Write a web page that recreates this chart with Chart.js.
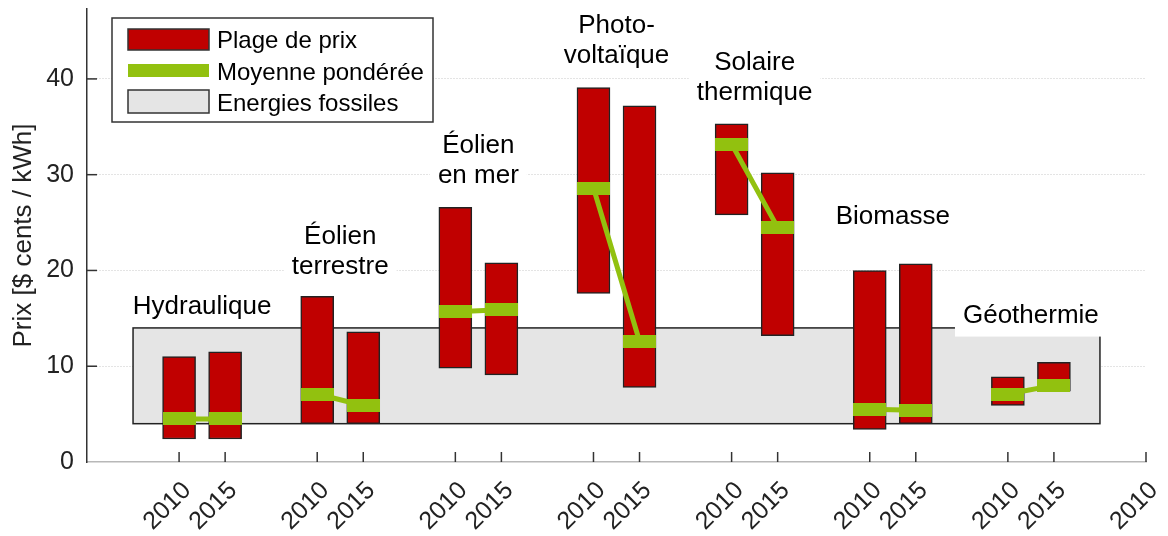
<!DOCTYPE html>
<html>
<head>
<meta charset="utf-8">
<script src="https://cdn.jsdelivr.net/npm/chart.js@4.4.1/dist/chart.umd.min.js"></script>
<style>
  html, body { margin: 0; padding: 0; background: #fff; }
  canvas { display: block; }
</style>
</head>
<body>
<canvas id="chart" width="1168" height="536"></canvas>
<script>
const technologies = ['Hydraulique', 'Éolien terrestre', 'Éolien en mer', 'Photovoltaïque',
  'Solaire thermique', 'Biomasse', 'Géothermie'];
const labelLines = [['Hydraulique'], ['Éolien', 'terrestre'], ['Éolien', 'en mer'], ['Photo-', 'voltaïque'],
  ['Solaire', 'thermique'], ['Biomasse'], ['Géothermie']];
const years = ['2010', '2015'];
const tickLabels = ['2010', '2015', '2010', '2015', '2010', '2015', '2010', '2015',
  '2010', '2015', '2010', '2015', '2010', '2015', '2010'];

// price range and weighted mean, $ cents / kWh
const low2010  = [2.4, 4.0, 9.8, 17.6, 25.8, 3.4, 5.9];
const high2010 = [11.0, 17.3, 26.6, 39.1, 35.3, 20.0, 8.9];
const mean2010 = [4.5, 7.1, 15.7, 28.6, 33.2, 5.5, 7.1];
const low2015  = [2.4, 4.0, 9.1, 7.8, 13.2, 4.0, 7.4];
const high2015 = [11.5, 13.6, 20.8, 37.2, 30.2, 20.7, 10.4];
const mean2015 = [4.5, 5.9, 15.9, 12.6, 24.5, 5.4, 8.0];
const fossilRange = [4, 14];

// where the group names sit (value of the last line's baseline)
const labelBaseline = [15.5, 19.6, 29.1, 41.7, 37.85, 24.9, 14.5];

const RED = '#c00000';
const GREEN = '#92c10f';
const GRAY = '#e5e5e5';
const EDGE = '#222';
const FAMILY = "'Liberation Sans', Arial, sans-serif";

// x layout: 2010 at 3k, 2015 at 3k+1
const xOf = (k, j) => k * 3 + j;
const tickPos = tickLabels.map((t, i) => Math.floor(i / 2) * 3 + (i % 2));

const bars = [];
const means = [];
technologies.forEach((t, k) => {
  bars.push({ x: xOf(k, 0), y: [low2010[k], high2010[k]] });
  bars.push({ x: xOf(k, 1), y: [low2015[k], high2015[k]] });
  means.push({ x: xOf(k, 0), y: mean2010[k] });
  means.push({ x: xOf(k, 1), y: mean2015[k] });
  means.push({ x: xOf(k, 2), y: null });
});

const meanMark = document.createElement('canvas');
meanMark.width = 33;
meanMark.height = 13;
const mctx = meanMark.getContext('2d');
mctx.fillStyle = GREEN;
mctx.fillRect(0, 0, 33, 13);

const decor = {
  id: 'decor',
  beforeDatasetsDraw(chart) {
    const { ctx, scales: { x, y } } = chart;
    const x0 = x.getPixelForValue(-1), x1 = x.getPixelForValue(20);
    const y0 = y.getPixelForValue(fossilRange[1]), y1 = y.getPixelForValue(fossilRange[0]);
    ctx.save();
    ctx.fillStyle = GRAY;
    ctx.fillRect(x0, y0, x1 - x0, y1 - y0);
    ctx.strokeStyle = EDGE;
    ctx.lineWidth = 1.5;
    ctx.strokeRect(x0, y0, x1 - x0, y1 - y0);
    ctx.restore();
  },
  afterDatasetsDraw(chart) {
    const { ctx, chartArea, scales: { x, y } } = chart;
    ctx.save();
    // inward ticks
    ctx.strokeStyle = '#333';
    ctx.lineWidth = 1.5;
    tickPos.forEach(v => {
      const px = x.getPixelForValue(v);
      ctx.beginPath();
      ctx.moveTo(px, chartArea.bottom);
      ctx.lineTo(px, chartArea.bottom - 10);
      ctx.stroke();
    });
    [10, 20, 30, 40].forEach(v => {
      const py = y.getPixelForValue(v);
      ctx.beginPath();
      ctx.moveTo(chartArea.left, py);
      ctx.lineTo(chartArea.left + 10, py);
      ctx.stroke();
    });

    // group names
    const size = 26, lineH = 30;
    ctx.font = size + 'px ' + FAMILY;
    ctx.textAlign = 'center';
    ctx.textBaseline = 'alphabetic';
    labelLines.forEach((lines, k) => {
      const cx = x.getPixelForValue(xOf(k, 0.5));
      const base = y.getPixelForValue(labelBaseline[k]);
      const w = Math.max(...lines.map(l => ctx.measureText(l).width));
      const top = base - (lines.length - 1) * lineH - 0.75 * size - 8;
      const bottom = base + 0.21 * size + 8;
      ctx.fillStyle = '#fff';
      ctx.fillRect(cx - w / 2 - 8, top, w + 16, bottom - top);
      ctx.fillStyle = '#000';
      lines.forEach((l, i) => ctx.fillText(l, cx, base - (lines.length - 1 - i) * lineH));
    });

    // legend
    ctx.fillStyle = '#fff';
    ctx.fillRect(112, 18, 321, 104);
    ctx.strokeStyle = '#333';
    ctx.strokeRect(112, 18, 321, 104);
    ctx.fillStyle = RED;
    ctx.fillRect(128, 29, 81, 21);
    ctx.strokeRect(128, 29, 81, 21);
    ctx.fillStyle = GREEN;
    ctx.fillRect(128, 64, 81, 13);
    ctx.fillStyle = GRAY;
    ctx.fillRect(128, 90, 81, 23);
    ctx.strokeRect(128, 90, 81, 23);
    ctx.fillStyle = '#000';
    ctx.font = '24px ' + FAMILY;
    ctx.textAlign = 'left';
    ctx.fillText('Plage de prix', 217, 48);
    ctx.fillText('Moyenne pondérée', 217, 80);
    ctx.fillText('Energies fossiles', 217, 111);
    ctx.restore();
  }
};

new Chart(document.getElementById('chart'), {
  data: {
    datasets: [
      {
        type: 'line',
        label: 'Moyenne pondérée',
        data: means,
        borderColor: GREEN,
        borderWidth: 5,
        pointStyle: meanMark,
        spanGaps: false,
        order: 1
      },
      {
        type: 'bar',
        label: 'Plage de prix',
        data: bars,
        backgroundColor: RED,
        borderColor: EDGE,
        borderWidth: 1.5,
        borderSkipped: false,
        barThickness: 33,
        order: 2
      }
    ]
  },
  options: {
    responsive: false,
    animation: false,
    devicePixelRatio: 1,
    layout: { padding: { top: 7, right: 22, left: 0, bottom: 0 } },
    plugins: { legend: { display: false }, tooltip: { enabled: false } },
    scales: {
      x: {
        type: 'linear',
        offset: false,
        min: -2,
        max: 21,
        afterBuildTicks: s => { s.ticks = tickPos.map(v => ({ value: v })); },
        afterFit: s => { s.height = 74; s.paddingLeft = 0; s.paddingRight = 0; },
        grid: { display: false },
        border: { color: '#b8b8b8', width: 1.5 },
        ticks: {
          autoSkip: false,
          minRotation: 45,
          maxRotation: 45,
          padding: 6,
          labelOffset: 8,
          color: '#222',
          font: { family: FAMILY, size: 25 },
          callback: (v, i) => tickLabels[i]
        }
      },
      y: {
        min: 0,
        max: 47.3,
        afterFit: s => { s.width = 87; s.paddingTop = 0; s.paddingBottom = 0; },
        border: { color: '#333', width: 1.5, dash: [1, 2] },
        grid: {
          drawTicks: false,
          color: c => c.tick.value === 0 ? 'transparent' : '#c8c8c8'
        },
        ticks: {
          stepSize: 10,
          includeBounds: false,
          padding: 13,
          color: '#222',
          font: { family: FAMILY, size: 25 }
        },
        title: {
          display: true,
          text: 'Prix [$ cents / kWh]',
          color: '#222',
          font: { family: FAMILY, size: 26 },
          padding: { top: 8, bottom: 0 }
        }
      }
    }
  },
  plugins: [decor]
});
</script>
</body>
</html>
